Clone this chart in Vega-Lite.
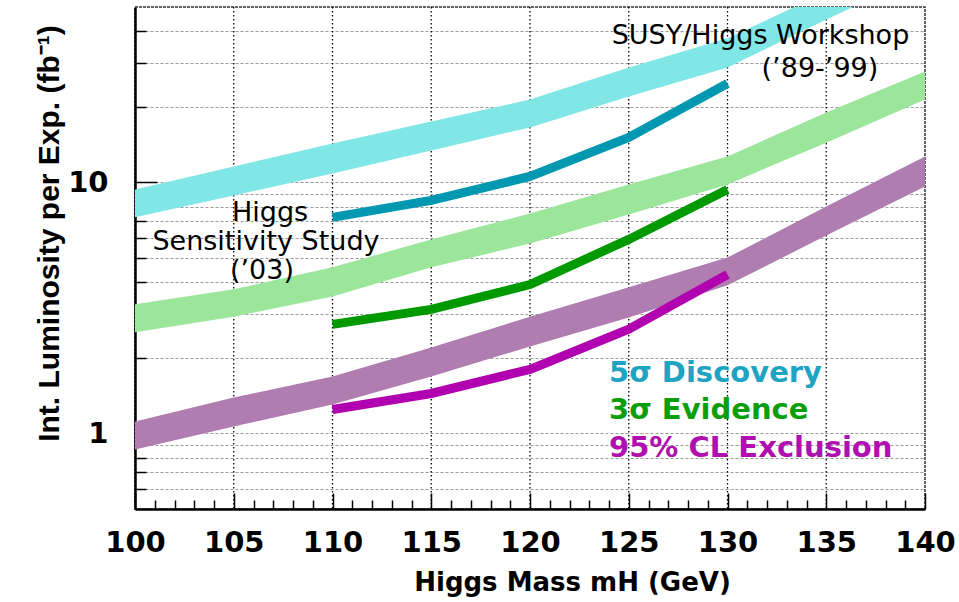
{
  "$schema": "https://vega.github.io/schema/vega-lite/v6.json",
  "width": 790,
  "height": 502,
  "autosize": {"type": "none"},
  "padding": {"left": 135, "top": 7, "right": 34, "bottom": 93},
  "background": "white",
  "config": {
    "view": {"stroke": "#333333", "strokeWidth": 1.5, "strokeDash": [3, 1]},
    "font": "DejaVu Sans"
  },
  "datasets": {
    "massgrid": [
      {"mass": 105}, {"mass": 110}, {"mass": 115}, {"mass": 120}, {"mass": 125}, {"mass": 130}, {"mass": 135}
    ],
    "bands": [
      {"band": "SUSY/Higgs Workshop", "mass": 100, "lo": 7.26, "hi": 9.38},
      {"band": "SUSY/Higgs Workshop", "mass": 105, "lo": 8.88, "hi": 11.58},
      {"band": "SUSY/Higgs Workshop", "mass": 110, "lo": 10.86, "hi": 14.3},
      {"band": "SUSY/Higgs Workshop", "mass": 115, "lo": 13.41, "hi": 17.5},
      {"band": "SUSY/Higgs Workshop", "mass": 120, "lo": 16.56, "hi": 21.4},
      {"band": "SUSY/Higgs Workshop", "mass": 125, "lo": 22.0, "hi": 28.7},
      {"band": "SUSY/Higgs Workshop", "mass": 130, "lo": 28.7, "hi": 37.5},
      {"band": "SUSY/Higgs Workshop", "mass": 135, "lo": 44.6, "hi": 57.4},
      {"band": "SUSY/Higgs Workshop", "mass": 140, "lo": 68, "hi": 86.4},
      {"band": "Workshop 3sigma", "mass": 100, "lo": 2.53, "hi": 3.27},
      {"band": "Workshop 3sigma", "mass": 105, "lo": 2.92, "hi": 3.75},
      {"band": "Workshop 3sigma", "mass": 110, "lo": 3.51, "hi": 4.59},
      {"band": "Workshop 3sigma", "mass": 115, "lo": 4.59, "hi": 5.93},
      {"band": "Workshop 3sigma", "mass": 120, "lo": 5.71, "hi": 7.52},
      {"band": "Workshop 3sigma", "mass": 125, "lo": 7.46, "hi": 9.82},
      {"band": "Workshop 3sigma", "mass": 130, "lo": 9.82, "hi": 12.7},
      {"band": "Workshop 3sigma", "mass": 135, "lo": 14.4, "hi": 19.0},
      {"band": "Workshop 3sigma", "mass": 140, "lo": 21.4, "hi": 27.7},
      {"band": "Workshop 95CL", "mass": 100, "lo": 0.863, "hi": 1.117},
      {"band": "Workshop 95CL", "mass": 105, "lo": 1.066, "hi": 1.39},
      {"band": "Workshop 95CL", "mass": 110, "lo": 1.305, "hi": 1.687},
      {"band": "Workshop 95CL", "mass": 115, "lo": 1.687, "hi": 2.2},
      {"band": "Workshop 95CL", "mass": 120, "lo": 2.22, "hi": 2.92},
      {"band": "Workshop 95CL", "mass": 125, "lo": 2.9, "hi": 3.82},
      {"band": "Workshop 95CL", "mass": 130, "lo": 3.89, "hi": 5.02},
      {"band": "Workshop 95CL", "mass": 135, "lo": 6.15, "hi": 8.02},
      {"band": "Workshop 95CL", "mass": 140, "lo": 9.64, "hi": 12.7}
    ],
    "curves": [
      {"curve": "5σ Discovery", "mass": 110, "lumi": 7.26},
      {"curve": "5σ Discovery", "mass": 115, "lumi": 8.48},
      {"curve": "5σ Discovery", "mass": 120, "lumi": 10.57},
      {"curve": "5σ Discovery", "mass": 125, "lumi": 15.1},
      {"curve": "5σ Discovery", "mass": 130, "lumi": 24.8},
      {"curve": "3σ Evidence", "mass": 110, "lumi": 2.72},
      {"curve": "3σ Evidence", "mass": 115, "lumi": 3.12},
      {"curve": "3σ Evidence", "mass": 120, "lumi": 3.92},
      {"curve": "3σ Evidence", "mass": 125, "lumi": 5.93},
      {"curve": "3σ Evidence", "mass": 130, "lumi": 9.38},
      {"curve": "95% CL Exclusion", "mass": 110, "lumi": 1.246},
      {"curve": "95% CL Exclusion", "mass": 115, "lumi": 1.443},
      {"curve": "95% CL Exclusion", "mass": 120, "lumi": 1.8},
      {"curve": "95% CL Exclusion", "mass": 125, "lumi": 2.6},
      {"curve": "95% CL Exclusion", "mass": 130, "lumi": 4.3}
    ],
    "notes": [
      {"label": "SUSY/Higgs Workshop", "mass": 131.67, "lumi": 35.5},
      {"label": "(’89-’99)", "mass": 134.68, "lumi": 26.4},
      {"label": "Higgs", "mass": 106.84, "lumi": 6.99},
      {"label": "Sensitivity Study", "mass": 106.63, "lumi": 5.36},
      {"label": "(’03)", "mass": 106.43, "lumi": 4.11}
    ],
    "legend": [
      {"curve": "5σ Discovery", "mass": 124.0, "lumi": 1.597},
      {"curve": "3σ Evidence", "mass": 124.0, "lumi": 1.137},
      {"curve": "95% CL Exclusion", "mass": 124.0, "lumi": 0.802}
    ]
  },
  "resolve": {"scale": {"color": "independent"}, "axis": {"x": "independent"}},
  "layer": [
    {
      "data": {"name": "massgrid"},
      "mark": {"type": "rule", "color": "#000000", "strokeWidth": 1.3, "strokeDash": [1.5, 2.5]},
      "encoding": {
        "x": {"field": "mass", "type": "quantitative", "axis": null}
      }
    },
    {
      "data": {"name": "bands"},
      "mark": {"type": "area", "clip": true},
      "encoding": {
        "x": {
          "field": "mass",
          "type": "quantitative",
          "scale": {"domain": [100, 140], "nice": false, "zero": false},
          "axis": {
            "zindex": 0,
            "orient": "bottom",
            "tickCount": 200,
            "values": [100,101,102,103,104,105,106,107,108,109,110,111,112,113,114,115,116,117,118,119,120,121,122,123,124,125,126,127,128,129,130,131,132,133,134,135,136,137,138,139,140],
            "format": "d",
            "labelExpr": "datum.value % 5 == 0 ? datum.label : ''",
            "labelOverlap": false,
            "labelFlush": false,
            "labelFont": "DejaVu Sans",
            "labelFontWeight": "bold",
            "labelFontSize": 29,
            "labelColor": "black",
            "labelPadding": 35,
            "tickColor": "black",
            "tickWidth": 1.5,
            "tickSize": {"condition": {"test": "datum.value % 5 == 0", "value": -16}, "value": -9},
            "grid": false,
            "domainColor": "black",
            "domainWidth": 2.5,
            "title": "Higgs Mass mH (GeV)",
            "titleFont": "DejaVu Sans",
            "titleFontWeight": "bold",
            "titleFontSize": 26,
            "titleColor": "black",
            "titleX": 437,
            "titleY": 81,
            "titleAlign": "center",
            "titleBaseline": "alphabetic"
          }
        },
        "y": {
          "field": "hi",
          "type": "quantitative",
          "scale": {"type": "log", "domain": [0.5, 50], "nice": false},
          "axis": {
            "zindex": 0,
            "tickCount": 200,
            "values": [0.6,0.7,0.8,0.9,1,2,3,4,5,6,7,8,9,10,20,30,40],
            "format": "~g",
            "labelExpr": "datum.value == 1 || datum.value == 10 ? datum.label : ''",
            "labelOverlap": false,
            "labelFlush": false,
            "labelFont": "DejaVu Sans",
            "labelFontWeight": "bold",
            "labelFontSize": 29,
            "labelColor": "black",
            "labelPadding": 49,
            "tickColor": "black",
            "tickWidth": 1.5,
            "tickSize": {"condition": {"test": "datum.value == 1 || datum.value == 10", "value": -22}, "value": -11},
            "grid": true,
            "gridColor": "#9a9a9a",
            "gridDash": [3, 2],
            "gridWidth": 1.2,
            "domainColor": "black",
            "domainWidth": 2.5,
            "title": "Int. Luminosity per Exp. (fb⁻¹)",
            "titleFont": "Liberation Sans",
            "titleFontWeight": "bold",
            "titleFontSize": 30,
            "titleColor": "black",
            "titleX": -77,
            "titleY": 226,
            "titleAngle": 270,
            "titleAlign": "center",
            "titleBaseline": "alphabetic"
          }
        },
        "y2": {"field": "lo"},
        "color": {
          "field": "band",
          "type": "nominal",
          "scale": {"domain": ["SUSY/Higgs Workshop", "Workshop 3sigma", "Workshop 95CL"], "range": ["#80e6e6", "#9be69b", "#b07db0"]},
          "legend": null
        }
      }
    },
    {
      "data": {"name": "curves"},
      "mark": {"type": "line", "strokeWidth": 9, "strokeCap": "butt", "strokeJoin": "miter"},
      "encoding": {
        "x": {"field": "mass", "type": "quantitative", "axis": null},
        "y": {"field": "lumi", "type": "quantitative"},
        "color": {
          "field": "curve",
          "type": "nominal",
          "scale": {"domain": ["5σ Discovery", "3σ Evidence", "95% CL Exclusion"], "range": ["#0098b0", "#009900", "#b000b0"]},
          "legend": null
        }
      }
    },
    {
      "data": {"name": "notes"},
      "mark": {"type": "text", "font": "DejaVu Sans", "fontSize": 27, "align": "center", "baseline": "alphabetic", "color": "black"},
      "encoding": {
        "x": {"field": "mass", "type": "quantitative", "axis": null},
        "y": {"field": "lumi", "type": "quantitative"},
        "text": {"field": "label"}
      }
    },
    {
      "data": {"name": "legend"},
      "mark": {"type": "text", "font": "DejaVu Sans", "fontSize": 29, "fontWeight": "bold", "align": "left", "baseline": "alphabetic"},
      "encoding": {
        "x": {"field": "mass", "type": "quantitative", "axis": null},
        "y": {"field": "lumi", "type": "quantitative"},
        "text": {"field": "curve"},
        "color": {
          "field": "curve",
          "type": "nominal",
          "scale": {"domain": ["5σ Discovery", "3σ Evidence", "95% CL Exclusion"], "range": ["#1ea3c3", "#0a9e0a", "#b010b0"]},
          "legend": null
        }
      }
    }
  ]
}
